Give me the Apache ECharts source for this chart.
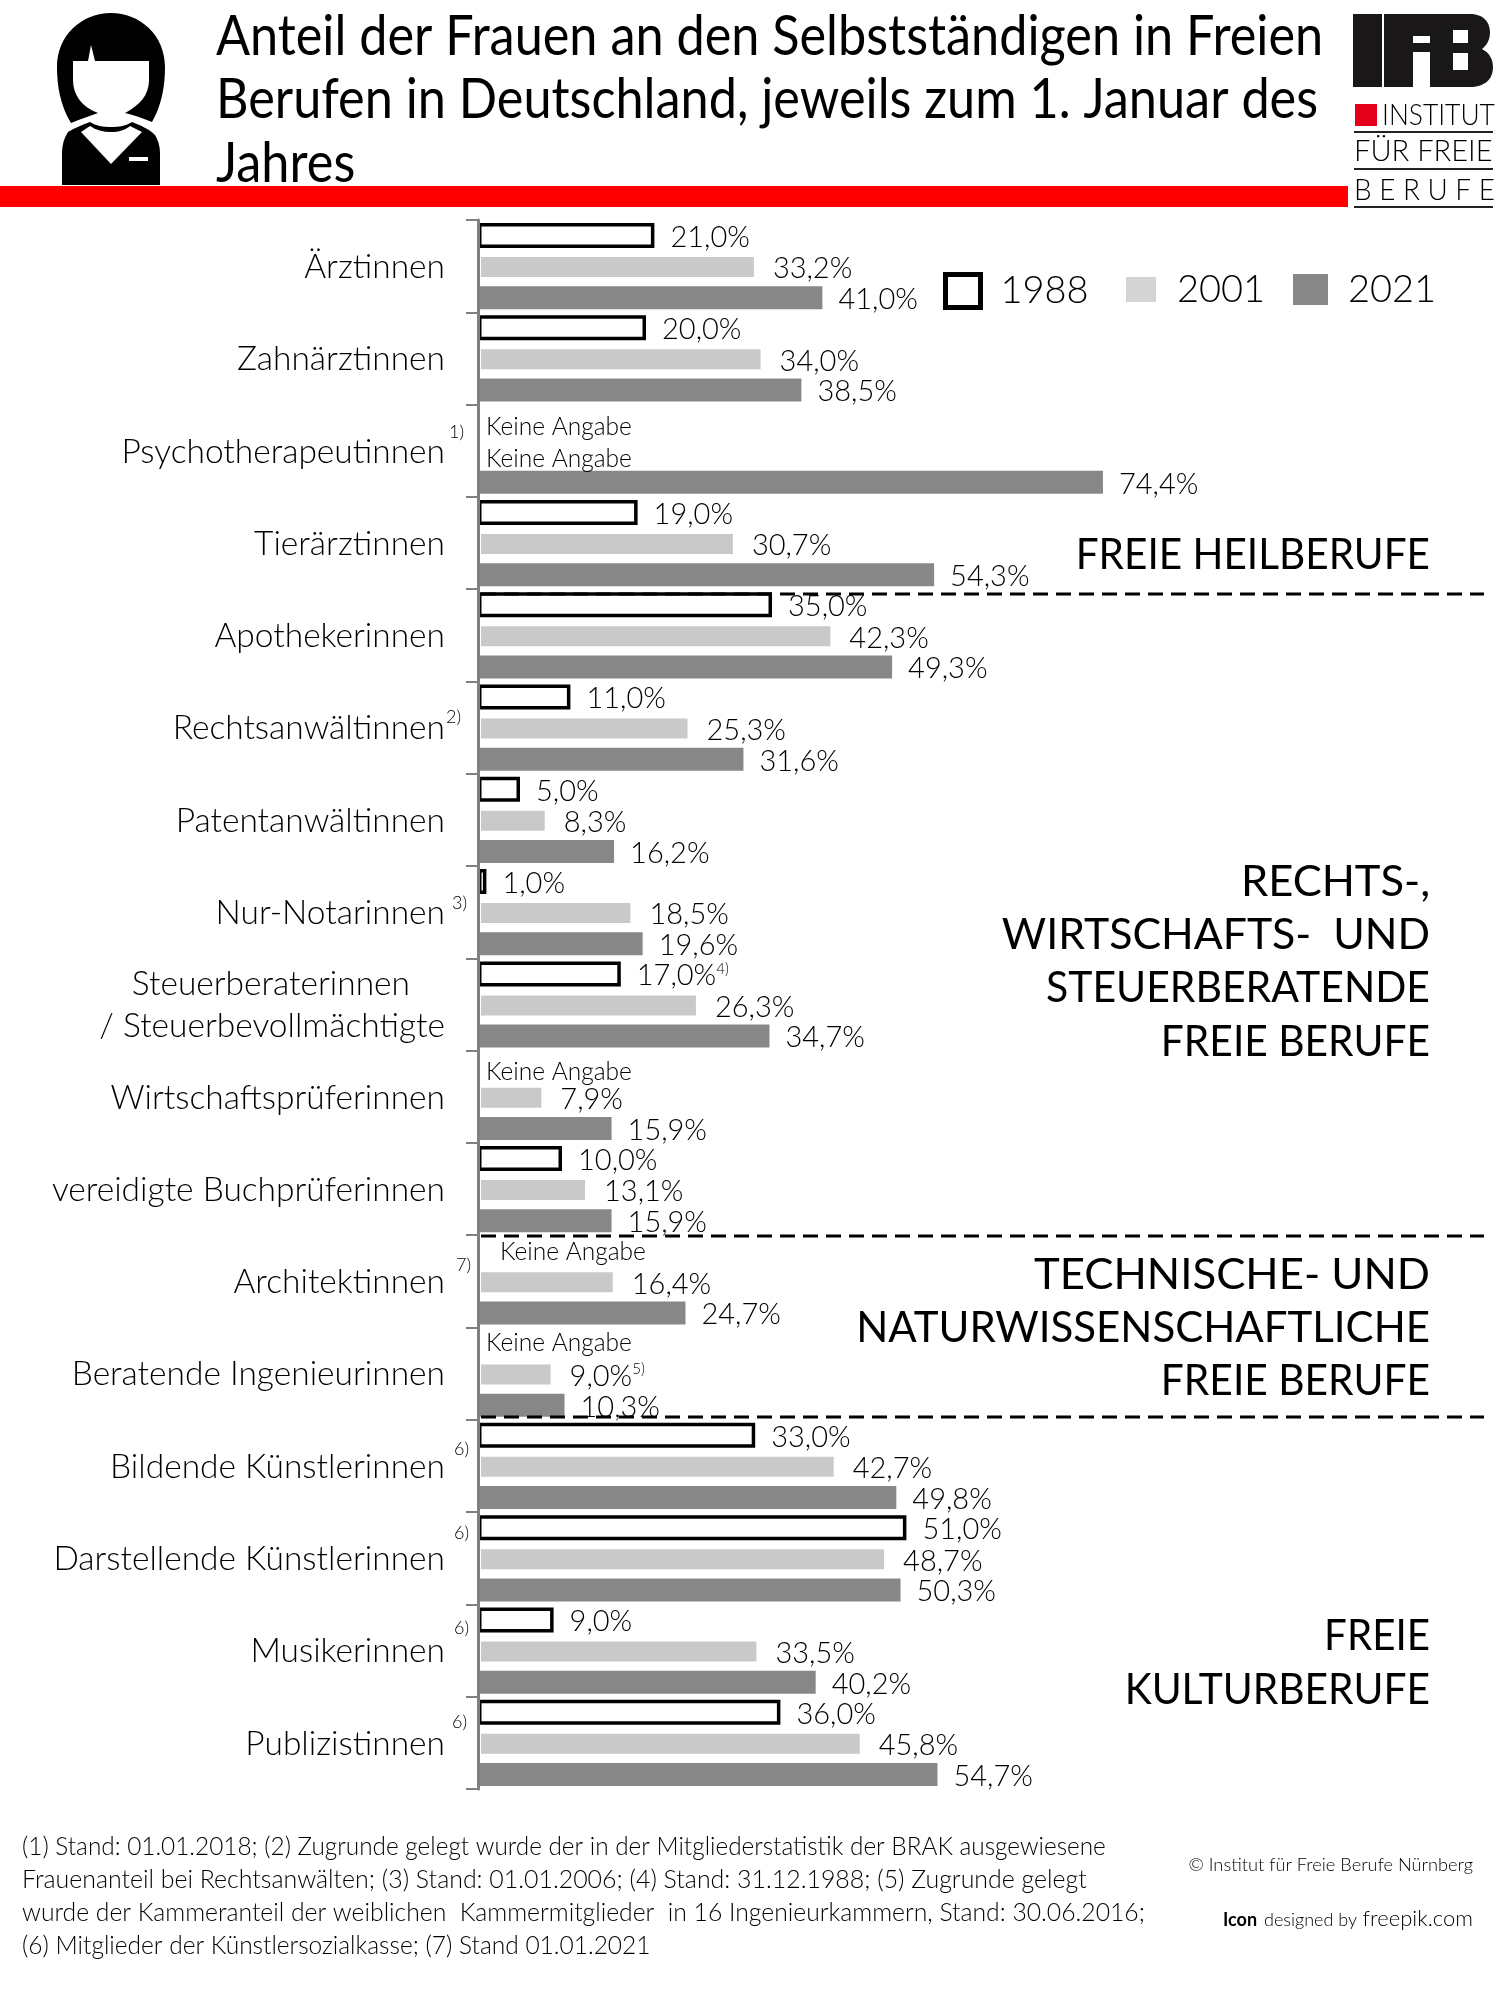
<!DOCTYPE html>
<html><head><meta charset="utf-8">
<style>html,body{margin:0;padding:0;background:#fff}#c{width:1500px;height:2000px}</style>
<script src="https://cdn.jsdelivr.net/npm/echarts@6/dist/echarts.min.js"></script>
</head><body><div id="c"></div>
<script>
const categories = ['Ärztinnen','Zahnärztinnen','Psychotherapeutinnen','Tierärztinnen','Apothekerinnen','Rechtsanwältinnen','Patentanwältinnen','Nur-Notarinnen','Steuerberaterinnen\n/ Steuerbevollmächtigte','Wirtschaftsprüferinnen','vereidigte Buchprüferinnen','Architektinnen','Beratende Ingenieurinnen','Bildende Künstlerinnen','Darstellende Künstlerinnen','Musikerinnen','Publizistinnen'];
const values1988 = [21,20,null,19,35,11,5,1,17,null,10,null,null,33,51,9,36];
const values2001 = [33.2,34,null,30.7,42.3,25.3,8.3,18.5,26.3,7.9,13.1,16.4,9,42.7,48.7,33.5,45.8];
const values2021 = [41,38.5,74.4,54.3,49.3,31.6,16.2,19.6,34.7,15.9,15.9,24.7,10.3,49.8,50.3,40.2,54.7];
const seriesNames = ['1988','2001','2021'];
const titleLines = ['Anteil der Frauen an den Selbstständigen in Freien','Berufen in Deutschland, jeweils zum 1. Januar des','Jahres'];
const noteLines = ['(1) Stand: 01.01.2018; (2) Zugrunde gelegt wurde der in der Mitgliederstatistik der BRAK ausgewiesene','Frauenanteil bei Rechtsanwälten; (3) Stand: 01.01.2006; (4) Stand: 31.12.1988; (5) Zugrunde gelegt','wurde der Kammeranteil der weiblichen  Kammermitglieder  in 16 Ingenieurkammern, Stand: 30.06.2016;','(6) Mitglieder der Künstlersozialkasse; (7) Stand 01.01.2021'];
const noData = 'Keine Angabe';
const valueNotes = {'1988|Steuerberaterinnen':'4)','2001|Beratende':'5)'};

const FONT = 'Lato, "Open Sans", sans-serif';
const naStyle = {2:{d:8,o:[0,7]},9:{d:8,o:[0,6]},11:{d:22,o:[0,1]},12:{d:8,o:[0,0]}};
const fmt = v => v.toFixed(1).replace('.',',') + '%';

function build(values, name){
  return values.map((v,i)=>{
    if (v === null) {
      const s = naStyle[i];
      return {value:0, itemStyle:{borderWidth:0,color:'rgba(0,0,0,0)',borderColor:'rgba(0,0,0,0)'}, label:{show:true,formatter:noData,fontSize:24.5,fontWeight:300,distance:s.d,offset:s.o}};
    }
    const key = Object.keys(valueNotes).find(k=>k.split('|')[0]===name && categories[i].startsWith(k.split('|')[1]));
    if (key) return {value:v,label:{formatter:'{a|'+fmt(v)+'}{s|'+valueNotes[key]+'}'}};
    return v;
  });
}
const labelBase = {show:true,position:'right',distance:16,offset:[0,2],color:'#000',fontFamily:FONT,fontWeight:300,fontSize:29,
  formatter:p=>fmt(p.value),
  rich:{a:{fontFamily:FONT,fontWeight:300,fontSize:29,color:'#000'},s:{fontFamily:FONT,fontWeight:300,fontSize:15,color:'#000',verticalAlign:'top',padding:[0,0,12,0]}}};

function t(text,x,y,size,o={}){
  return {type:'text',x,y,scaleX:o.sx||1,scaleY:1,z:o.z||20,silent:true,
    style:{text,fontFamily:o.family||FONT,fontSize:size,fontWeight:o.w||300,fill:o.c||'#000',
      textAlign:o.align||'left',textVerticalAlign:'middle'}};
}
const rect=(x,y,w,h,fill,z)=>({type:'rect',shape:{x,y,width:w,height:h},style:{fill},z:z||10,silent:true});
const shapeCount={n:0};
const path=(d,fill,z)=>{
  const name='iconShape'+(shapeCount.n++);
  echarts.graphic.registerShape(name,echarts.graphic.extendPath(d));
  return {type:name,style:{fill},z:z||10,silent:true};
};
const dash=(y)=>({type:'line',shape:{x1:481,y1:y,x2:1484,y2:y},style:{stroke:'#000',lineWidth:3,lineDash:[15,8]},z:15,silent:true});
const cap=(s,y,sx)=>t(s,1430,y,42,{align:'right',w:400,sx});

const graphics=[
  // person icon
  path('M71 123C60 105 57 85 57 67C57 35 82 13 111 13C140 13 165 35 165 67C165 85 162 105 152 122C142 118 134 115 125 113C140 105 149 95 149 80L149 61L95 61L91 45L88 61L73 61L73 80C73 95 82 107 98 113C90 116 80 119 71 123Z','#000'),
  path('M62 185L62 153C62 145 64 138 68 132C74 128 82 125 90 122C96 126 103 127 111 127C119 127 126 126 132 122C140 125 149 129 155 135C158 140 160 146 160 153L160 185Z','#000'),
  path('M81 132L90 126C96 130 103 132 111 132C119 132 125 130 130 126L142 132L111 164Z','#fff',11),
  rect(129,157,19,4,'#fff',11),
  // red rule
  rect(0,186,1348,21,'#ff0000'),
  // logo
  rect(1353,14,29,73,'#1a1718'),
  path('M1384 14L1470 14C1485 14 1490 24 1490 32C1490 40 1487 45 1482 49C1490 53 1493 60 1493 67C1493 80 1484 87 1470 87L1430 87L1430 52L1413 52L1413 87L1384 87Z','#1a1718'),
  rect(1413,36,17,7,'#fff',11), rect(1453,30,15,13,'#fff',11), rect(1453,53,15,17,'#fff',11),
  rect(1355,104,22,22,'#e3001b'),
  t('INSTITUT',1382,115,30,{sx:.88}),
  rect(1354,131,139,2,'#222'),
  t('FÜR FREIE',1354,151,30,{sx:.97}),
  rect(1354,168,139,2,'#222'),
  t('B E R U F E',1354,190,30,{sx:.93}),
  rect(1354,206,139,2,'#222'),
  // title
  ...titleLines.map((s,i)=>t(s,216,36.5+i*63.5,56,{w:400,sx:.90})),
  // dividers
  dash(594),dash(1236),dash(1417),
  // group captions
  cap('FREIE HEILBERUFE',555,.965),
  cap('RECHTS-,',882,1.035),
  cap('WIRTSCHAFTS-  UND',935,1.02),
  cap('STEUERBERATENDE',988,.975),
  cap('FREIE BERUFE',1042,.97),
  cap('TECHNISCHE- UND',1275,1.04),
  cap('NATURWISSENSCHAFTLICHE',1328,1),
  cap('FREIE BERUFE',1381,.97),
  cap('FREIE',1636,.96),
  cap('KULTURBERUFE',1690,.97),
  // footnote marks
  t('1)',449,432,18),t('2)',446,717,18),t('3)',452,903,18),t('7)',456,1265,18),
  t('6)',454,1449,18),t('6)',454,1533,18),t('6)',454,1628,18),t('6)',452,1722,18),
  // footnotes
  ...noteLines.map((s,i)=>t(s,22,1847+i*33,25,{sx:[.974,.996,.989,.98][i]})),
  t('© Institut für Freie Berufe Nürnberg',1473,1865,18,{align:'right',sx:1.013}),
  t('Icon',1223,1920,18,{w:700}),
  t('designed by',1264,1920,18),
  t('freepik.com',1473,1919,22,{align:'right'}),
];

const legendBase={orient:'horizontal',selectedMode:false,itemGap:0,icon:'rect'};
const legendText=(pad)=>({fontFamily:FONT,fontWeight:300,fontSize:38,color:'#000',padding:[0,0,0,pad]});

const axisFont={fontFamily:FONT,fontWeight:300,fontSize:33.5,lineHeight:42,color:'#000'};
const option={
  animation:false,
  backgroundColor:'#fff',
  legend:[
    {...legendBase,data:['1988'],left:938,top:267,itemWidth:35,itemHeight:33,itemStyle:{color:'#fff',borderColor:'#000',borderWidth:5},textStyle:legendText(15)},
    {...legendBase,data:['2001'],left:1121,top:265.5,itemWidth:30,itemHeight:25,itemStyle:{color:'#d4d4d4',borderWidth:0},textStyle:legendText(16)},
    {...legendBase,data:['2021'],left:1288,top:265.5,itemWidth:35,itemHeight:31,itemStyle:{color:'#878787',borderWidth:0},textStyle:legendText(15)},
  ],
  grid:{left:478,top:220,width:840,height:1569,containLabel:false},
  xAxis:{type:'value',min:0,max:100,show:false},
  yAxis:{type:'category',inverse:true,data:categories,z:5,
    axisLine:{lineStyle:{color:'#808080',width:3}},
    axisTick:{show:true,length:12,lineStyle:{color:'#808080',width:2}},
    axisLabel:{margin:33,...axisFont,align:'right',padding:[2,0,0,0],
      formatter:v=>v.includes('\n')?v.split('\n').map((l,i)=>i===0?'{a|'+l+'}':'{b|'+l+'}').join('\n'):v,
      rich:{a:{...axisFont,padding:[0,35,0,0]},b:{...axisFont}}}},
  series:[
    {name:seriesNames[0],type:'bar',barWidth:25,barGap:'24%',data:build(values1988,'1988'),itemStyle:{color:'#fff',borderColor:'#000',borderWidth:3.5},label:labelBase},
    {name:seriesNames[1],type:'bar',barWidth:26,barGap:'24%',data:build(values2001,'2001'),itemStyle:{color:'#c9c9c9',borderColor:'#fff',borderWidth:3},label:labelBase},
    {name:seriesNames[2],type:'bar',barWidth:23,barGap:'24%',data:build(values2021,'2021'),itemStyle:{color:'#878787'},label:labelBase},
  ],
  graphic:{elements:graphics}
};
const chart=echarts.init(document.getElementById('c'));
chart.setOption(option);
</script></body></html>
